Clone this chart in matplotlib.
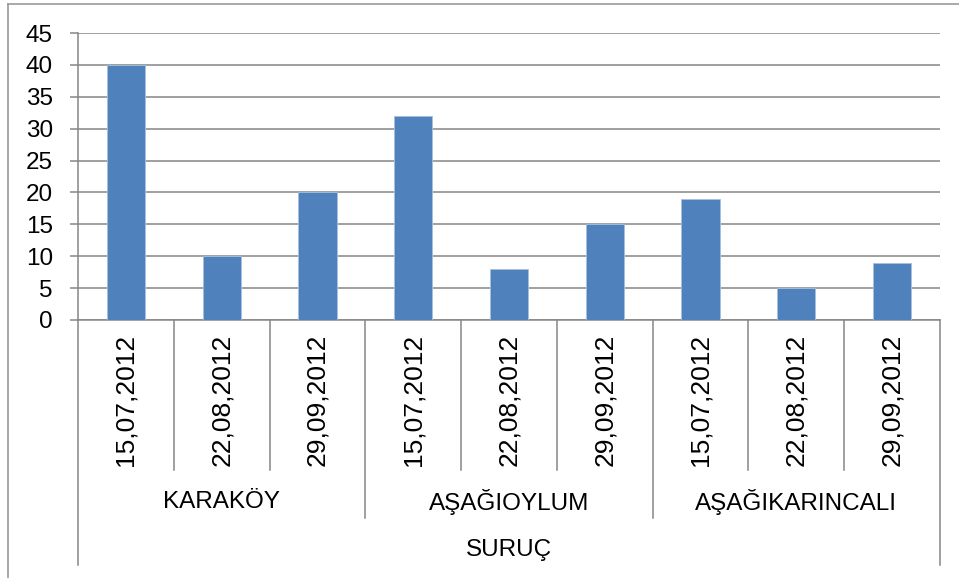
import matplotlib
matplotlib.use("Agg")
import matplotlib.pyplot as plt
from matplotlib.transforms import blended_transform_factory
from matplotlib.lines import Line2D

plt.rcParams['font.family'] = ['Liberation Sans', 'DejaVu Sans']

# Data
dates = ["15,07,2012", "22,08,2012", "29,09,2012"] * 3
villages = ["KARAKÖY", "AŞAĞIOYLUM", "AŞAĞIKARINCALI"]
district = "SURUÇ"
values = [40, 10, 20, 32, 8, 15, 19, 5, 9]
yticks = [0, 5, 10, 15, 20, 25, 30, 35, 40, 45]

W, H = 959, 578
fig = plt.figure(figsize=(W / 100, H / 100), dpi=100)

def fy(py):
    return 1 - py / H

def fx(px):
    return px / W

ax = fig.add_axes([fx(78), fy(320), fx(940) - fx(78), fy(33) - fy(320)])

grid_c = "#868686"
bar_c = "#4F81BD"

x = list(range(len(values)))
ax.bar(x, values, width=0.4, color=bar_c, edgecolor="#A7C0DE", linewidth=0.6, zorder=3)
ax.set_xlim(-0.5, len(values) - 0.5)
ax.set_ylim(0, 45)
ax.set_yticks(yticks)
ax.set_yticklabels([str(v) for v in yticks], fontsize=17.5)
ax.yaxis.grid(True, color=grid_c, linewidth=1.1, zorder=0)
ax.set_axisbelow(True)
ax.tick_params(axis="y", length=6, width=1.1, color=grid_c, pad=12)
ax.tick_params(axis="x", length=0, labelbottom=False)
for s in ["top", "right"]:
    ax.spines[s].set_visible(False)
for s in ["left", "bottom"]:
    ax.spines[s].set_color(grid_c)
    ax.spines[s].set_linewidth(1.1)

tr = blended_transform_factory(ax.transData, fig.transFigure)

# Category dividers of the multi-level axis
n = len(values)
for b in range(n + 1):
    xb = b - 0.5
    if b in (0, n):
        y_end = 565
    elif b % 3 == 0:
        y_end = 518
    else:
        y_end = 470
    fig.add_artist(Line2D([xb, xb], [fy(320), fy(y_end)], transform=tr,
                          color=grid_c, linewidth=1.1))

# Date labels
for i, d in enumerate(dates):
    fig.text(i, fy(334), d, transform=tr, rotation=90, ha="center", va="top",
             fontsize=19)

# Village labels
for g, name in enumerate(villages):
    fig.text(g * 3 + 1, fy(502), name, transform=tr, ha="center", va="center",
             fontsize=17.5)

# District label
fig.text((n - 1) / 2, fy(550), district, transform=tr, ha="center", va="center",
         fontsize=17.5)

# Chart frame
fig.add_artist(Line2D([fx(8), fx(8)], [fy(4), 0], transform=fig.transFigure,
                      color="#9A9A9A", linewidth=1.2))
fig.add_artist(Line2D([fx(8), 1], [fy(4), fy(4)], transform=fig.transFigure,
                      color="#9A9A9A", linewidth=1.2))

fig.savefig("out.png", dpi=100, facecolor="white")
